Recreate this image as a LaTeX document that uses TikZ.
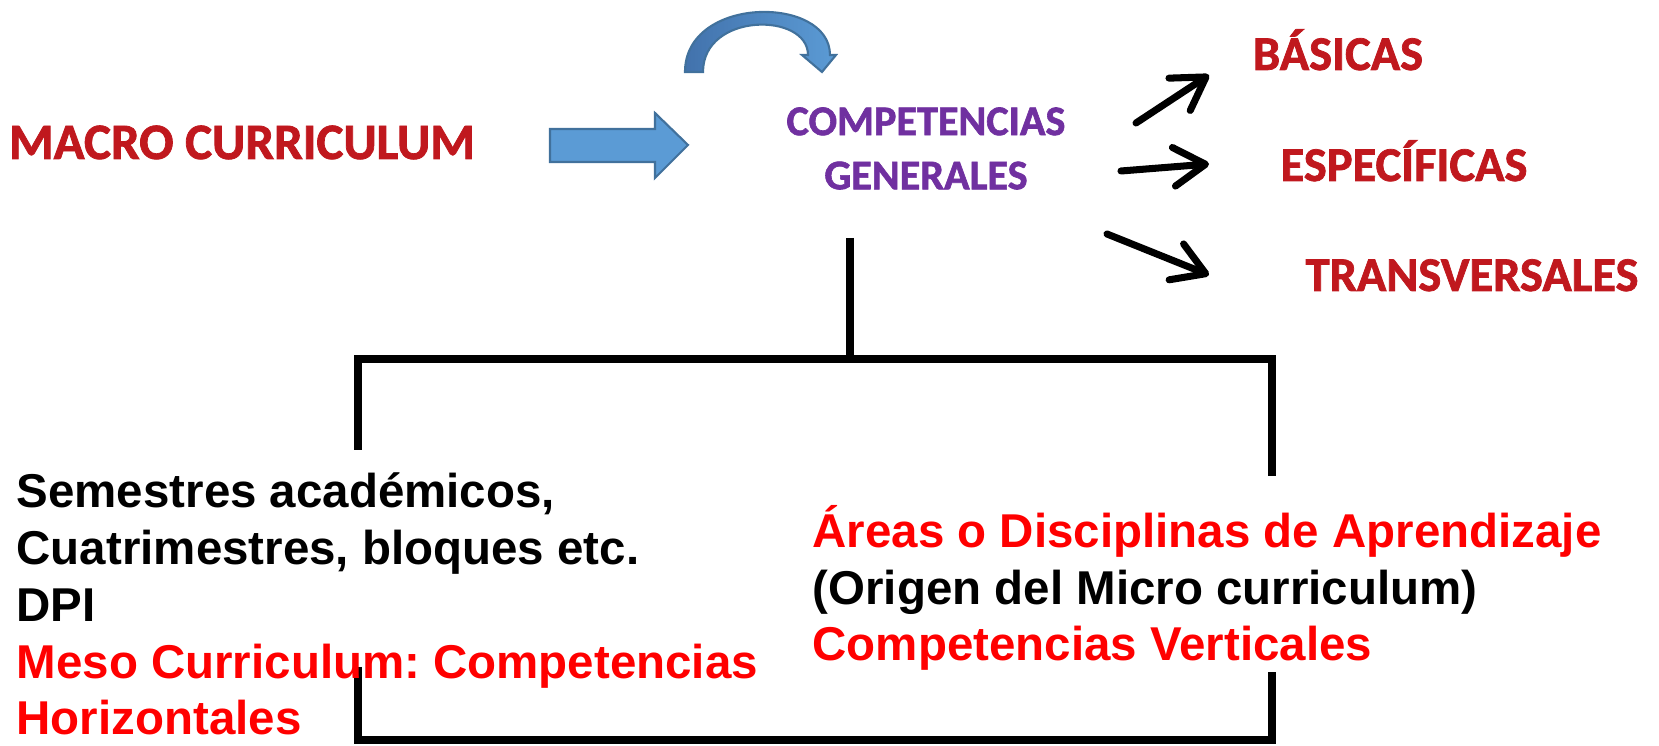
\documentclass[tikz,border=0pt]{standalone}
\usepackage{fontspec}
\usepackage{xcolor}
\setmainfont{Liberation Sans}
\newfontfamily\carlito{Carlito}[BoldFeatures={FakeBold=1.5}]
\usetikzlibrary{arrows.meta}
\frenchspacing
\definecolor{wordred}{RGB}{192,24,30}
\definecolor{wordpurple}{RGB}{112,48,160}
\definecolor{shapeblue}{RGB}{91,155,213}
\definecolor{shadeblue}{RGB}{66,114,172}
\definecolor{shapeedge}{RGB}{65,113,156}
\tikzset{
  wordart/.style={text=wordred, font=\carlito\bfseries\fontsize{#1}{#1}\selectfont},
  pointer/.style={line width=2pt, line cap=round, -{Straight Barb[length=9pt, width=11pt, round]}},
  bracket/.style={line width=2pt},
  blueshape/.style={fill=shapeblue, draw=shapeedge, line width=0.6pt},
  bodytext/.style={font=\bfseries\fontsize{13.5}{16.2}\selectfont, align=left}
}

\begin{document}
\begin{tikzpicture}[x=0.01cm, y=-0.01cm, every node/.style={inner sep=0pt}]
\useasboundingbox (0,0) rectangle (1659,746);

% ---- top row: macro curriculum and the general competences ----
\node[wordart=14.5, anchor=base] (macro) at (242,159) {MACRO CURRICULUM};
\filldraw[blueshape] (550,129) -- (655,129) -- (655,113) -- (688,145)
  -- (655,178) -- (655,162) -- (550,162) -- cycle;
\path[blueshape, left color=shadeblue, right color=shapeblue]
  (685,72) .. controls (685,-5) and (830,-5) .. (830,55) -- (836,55)
  -- (822,72) -- (802,55) -- (808,55) .. controls (808,12) and (703,12) .. (703,72) -- cycle;
\node[text=wordpurple, font=\carlito\bfseries\fontsize{12}{15.4}\selectfont, align=center]
  (compgen) at (926,148.5) {COMPETENCIAS\\GENERALES};

% ---- three kinds of competences ----
\node[wordart=13.8, anchor=base] (basicas) at (1338,70) {BÁSICAS};
\node[wordart=13.8, anchor=base] (especificas) at (1404,181) {ESPECÍFICAS};
\node[wordart=13.8, anchor=base] (transversales) at (1472,291) {TRANSVERSALES};
\coordinate (b1s) at (1136,123);
\coordinate (b1e) at (1209,75);
\coordinate (b2s) at (1121,171);
\coordinate (b2e) at (1209,164);
\coordinate (b3s) at (1107,234);
\coordinate (b3e) at (1209,275);
\draw[pointer] (b1s) -- (b1e);
\draw[pointer] (b2s) -- (b2e);
\draw[pointer] (b3s) -- (b3e);

% ---- bracket down to meso and micro curriculum ----
\coordinate (stem) at (850,238);
\coordinate (hub) at (850,359);
\coordinate (foot) at (850,740);
\coordinate (leftup) at (358,450);
\coordinate (rightup) at (1272,476);
\coordinate (leftlow) at (358,667);
\coordinate (rightlow) at (1272,672);
\draw[bracket] (stem) -- (hub);
\draw[bracket] (leftup) |- (hub) -| (rightup);
\draw[bracket] (leftlow) |- (foot) -| (rightlow);

\node[bodytext, anchor=base west] (meso) at (16,735)
  {Semestres académicos,\\Cuatrimestres, bloques etc.\\DPI\\
   \textcolor{red}{Meso Curriculum: Competencias}\\\textcolor{red}{Horizontales}};
\node[bodytext, anchor=base west] (micro) at (812,661)
  {\textcolor{red}{Áreas o Disciplinas de Aprendizaje}\\(Origen del Micro curriculum)\\
   \textcolor{red}{Competencias Verticales}};

\end{tikzpicture}
\end{document}
